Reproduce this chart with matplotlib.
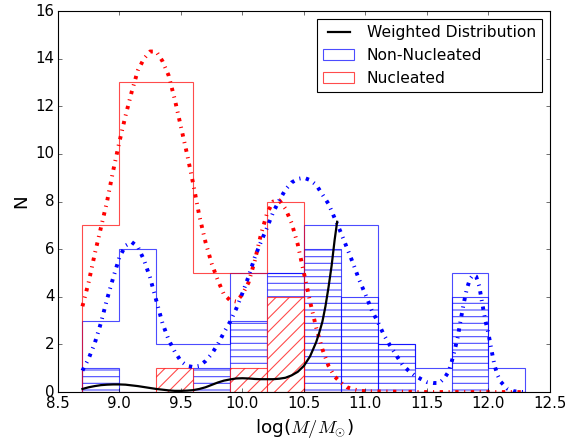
import matplotlib
matplotlib.use('Agg')

import numpy as np
from matplotlib import pyplot as plt
from matplotlib.lines import Line2D

plt.style.use('classic')

# bins in log(M/Msun) and counts per bin
edges = [8.7, 9.0, 9.3, 9.6, 9.9, 10.2, 10.5, 10.8, 11.1, 11.4, 11.7, 12.0, 12.3]
non_nucleated = [3, 6, 2, 2, 5, 5, 7, 7, 2, 1, 5, 1]
nucleated = [7, 13, 13, 5, 5, 8, 0, 0, 0, 0, 0, 0]
non_nucleated_sub = [1, 0, 0, 1, 3, 5, 6, 4, 2, 0, 4, 0]
nucleated_sub = [0, 0, 1, 0, 1, 4, 0, 0, 0, 0, 0, 0]

# smoothed distributions
nuc_x = list(np.round(np.arange(8.70, 11.001, 0.05), 3)) + [11.5, 12.0, 12.3]
nuc_y = [3.6, 4.6, 5.8, 6.9, 8.0, 9.3, 10.5, 11.6, 12.6, 13.5,
         14.0, 14.3, 14.3, 13.9, 13.3, 12.3, 11.15, 10.0, 8.75, 7.4,
         6.3, 5.4, 4.7, 4.1, 3.85, 3.8, 4.1, 4.6, 5.5, 6.6,
         7.5, 8.0, 8.05, 7.7, 7.1, 6.2, 5.0, 3.8, 2.7, 1.8,
         1.1, 0.65, 0.4, 0.2, 0.12, 0.06, 0.03, 0.0, 0.0, 0.0]

non_x = list(np.round(np.arange(8.70, 11.551, 0.05), 3)) + \
    list(np.round(np.arange(11.60, 12.101, 0.025), 3)) + [12.15, 12.2, 12.25, 12.3]
non_y = [0.9, 1.4, 2.05, 2.9, 3.9, 4.8, 5.65, 6.15, 6.3, 6.1,
         5.55, 4.8, 3.85, 2.9, 2.2, 1.7, 1.3, 1.1, 1.05, 1.1,
         1.3, 1.6, 2.0, 2.5, 2.95, 3.5, 4.15, 4.85, 5.65, 6.3,
         6.9, 7.55, 8.05, 8.5, 8.8, 8.95, 9.0, 8.9, 8.7, 8.3,
         7.9, 7.3, 6.7, 6.05, 5.4, 4.7, 4.1, 3.45, 2.95, 2.4,
         1.95, 1.55, 1.15, 0.9, 0.7, 0.55, 0.42, 0.38,
         0.38, 0.5, 0.65, 0.85, 1.25, 1.75, 2.3, 3.05, 3.75, 4.35,
         4.75, 4.92, 4.85, 4.45, 3.7, 3.0, 2.45, 1.75, 1.1, 0.7,
         0.43, 0.15, 0.04, 0.01, 0.0]

weighted_x = list(np.round(np.arange(8.70, 10.601, 0.05), 3)) + \
    [10.625, 10.65, 10.675, 10.70, 10.725, 10.75, 10.77]
weighted_y = [0.13, 0.2, 0.25, 0.29, 0.31, 0.32, 0.32, 0.31, 0.28, 0.25,
              0.21, 0.17, 0.13, 0.1, 0.07, 0.05, 0.05, 0.06, 0.08, 0.13,
              0.2, 0.3, 0.4, 0.48, 0.53, 0.57, 0.58, 0.57, 0.55, 0.54,
              0.54, 0.54, 0.56, 0.6, 0.7, 0.85, 1.1, 1.5, 2.1,
              2.5, 2.95, 3.6, 4.4, 5.3, 6.4, 7.15]

edges = np.array(edges)
centers = (edges[1:] + edges[:-1]) / 2.0
widths = np.diff(edges)

fig = plt.figure(figsize=(567 / 80., 441 / 80.), dpi=80, facecolor='w')
ax = fig.add_axes([0.102, 0.111, 0.868, 0.864])

_, _, p_non = ax.hist(centers, bins=edges, weights=non_nucleated, histtype='step',
                      color='b', alpha=0.7, lw=1)
_, _, p_nuc = ax.hist(centers, bins=edges, weights=nucleated, histtype='step',
                      color='r', alpha=0.7, lw=1)
ax.bar(edges[:-1], non_nucleated_sub, width=widths, align='edge', fill=False,
       edgecolor=(0, 0, 1, 0.7), hatch='--', lw=1)
ax.bar(edges[:-1], nucleated_sub, width=widths, align='edge', facecolor='w',
       edgecolor=(1, 0, 0, 0.7), hatch='//', lw=1)

ax.plot(nuc_x, nuc_y, 'r-.', lw=3.5)
ax.plot(non_x, non_y, 'b-.', lw=3.5)
l_w, = ax.plot(weighted_x, weighted_y, 'k-', lw=2)

ax.set_xlim(8.5, 12.5)
ax.set_ylim(0, 16)
ax.tick_params(labelsize=13.5)
ax.tick_params(axis='y', pad=3)
ax.set_xlabel(r'log($M/M_{\odot}$)', fontsize=16.5)
ax.set_ylabel('N', fontsize=16.5)

ax.legend([l_w, p_non[0], p_nuc[0]],
          ['Weighted Distribution', 'Non-Nucleated', 'Nucleated'],
          loc='upper right', fontsize=14)

fig.savefig('out.png', dpi=80, facecolor='w')
